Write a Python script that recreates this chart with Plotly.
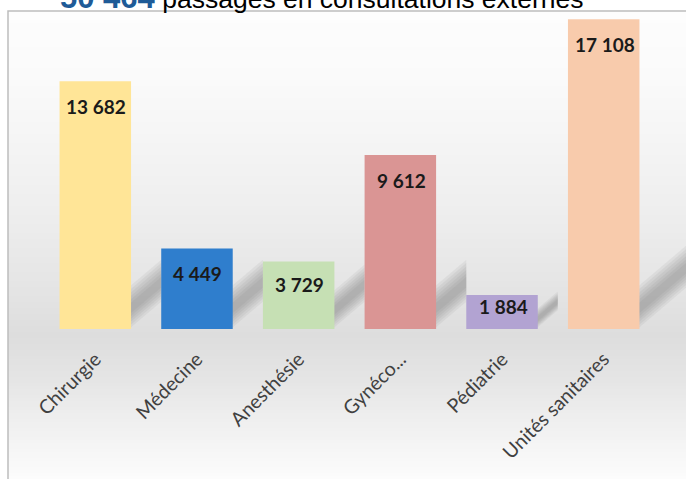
import numpy as np
import plotly.graph_objects as go

# ---- data ----
categories = ["Chirurgie", "Médecine", "Anesthésie", "Gynéco...", "Pédiatrie", "Unités sanitaires"]
values = [13682, 4449, 3729, 9612, 1884, 17108]
value_labels = ["13 682", "4 449", "3 729", "9 612", "1 884", "17 108"]
total_label = "50 464"
title_rest = "passages en consultations externes"
colors = ["#FFE597", "#2F7ECD", "#C6E0B4", "#DA9594", "#B2A3D2", "#F8CBAC"]

W, H = 686, 479
T, B = 11, 150          # plot area top / bottom margins in px
PH = H - T - B          # plot height in px
px_per_unit = 0.0181
ymax = PH / px_per_unit

step = 101.68
first_c = 95.3
bar_w = 71.5
r0 = -first_c / step
r1 = r0 + W / step

fig = go.Figure()
fig.add_trace(go.Bar(
    x=categories, y=values,
    marker=dict(color=colors, line=dict(width=0)),
    width=bar_w / step,
    hoverinfo="skip",
))

def py_to_paper(py):
    return (H - B - py) / PH

def px_to_paper(px):
    return px / W

shapes = []
# background gradient strips
keys_py = [11, 80, 150, 220, 300, 335, 380, 420, 460, 479]
keys_g = [253, 250, 244, 237, 227, 221, 229, 239, 248, 252]
ys = np.arange(11, 480, 3)
for y0 in ys:
    g = int(round(np.interp(y0 + 1.5, keys_py, keys_g)))
    shapes.append(dict(type="rect", xref="paper", yref="paper",
                       x0=8 / W, x1=1.0, y0=py_to_paper(min(y0 + 3.5, H)), y1=py_to_paper(y0),
                       fillcolor=f"rgb({g},{g},{g})", line=dict(width=0), layer="below"))

# soft cast shadows at the foot of each bar (derived from bar heights)
base = H - B
n = len(values)
for i, v in enumerate(values):
    hp = v * px_per_unit
    xr = first_c + i * step + bar_w / 2 - 2
    gap = (step - bar_w + 2) if i < n - 1 else (W - xr + 5)
    L = min(0.35 * hp + 10, gap)
    t = min(0.55 * hp, 42)
    for f in [1.0, 0.85, 0.7, 0.55, 0.4, 0.25]:
        tt = t * f
        off = (t - tt) * 0.45
        pts = [(xr, base - off), (xr + L, base - off - 0.85 * L),
               (xr + L, base - off - 0.85 * L - tt), (xr, base - off - tt)]
        path = "M " + " L ".join(f"{px_to_paper(x)},{py_to_paper(y)}" for x, y in pts) + " Z"
        shapes.append(dict(type="path", xref="paper", yref="paper", path=path,
                           fillcolor="rgba(90,90,90,0.075)", line=dict(width=0), layer="below"))

# frame
shapes.append(dict(type="path", xref="paper", yref="paper",
                   path=f"M {8/W},{py_to_paper(H+2)} L {8/W},{py_to_paper(11)} L 1.0,{py_to_paper(11)}",
                   line=dict(color="#BDBDBD", width=1.5), layer="below"))

annotations = []
for c, v, lab in zip(categories, values, value_labels):
    bar_px = v * px_per_unit
    annotations.append(dict(x=c, y=v, xref="x", yref="y", text=f"<b>{lab}</b>",
                            showarrow=False, yanchor="middle", xanchor="center",
                            yshift=-min(25, 0.34 * bar_px), xshift=1,
                            font=dict(family="Lato", size=19, color="#1A1A1A")))
annotations.append(dict(
    x=58 / W, y=py_to_paper(17), xref="paper", yref="paper", xanchor="left", yanchor="bottom",
    showarrow=False,
    text=f"<b><span style='color:#1F5B97;font-size:31px'>{total_label}</span></b> {title_rest}",
    font=dict(family="Liberation Sans", size=26.5, color="#000000"),
))

fig.update_layout(
    width=W, height=H,
    margin=dict(l=0, r=0, t=T, b=B),
    paper_bgcolor="white", plot_bgcolor="rgba(0,0,0,0)",
    showlegend=False,
    shapes=shapes, annotations=annotations,
    xaxis=dict(type="category", range=[r0, r1], showgrid=False, zeroline=False, showline=False,
               ticks="", tickangle=-45, fixedrange=True, ticklabelstandoff=14,
               tickfont=dict(family="Lato", size=19.5, color="#404040")),
    yaxis=dict(range=[0, ymax], visible=False, fixedrange=True),
)
fig.write_html("out.html", config={"displayModeBar": False},
               post_script="document.body.style.margin='0px';document.body.style.overflow='hidden';")
